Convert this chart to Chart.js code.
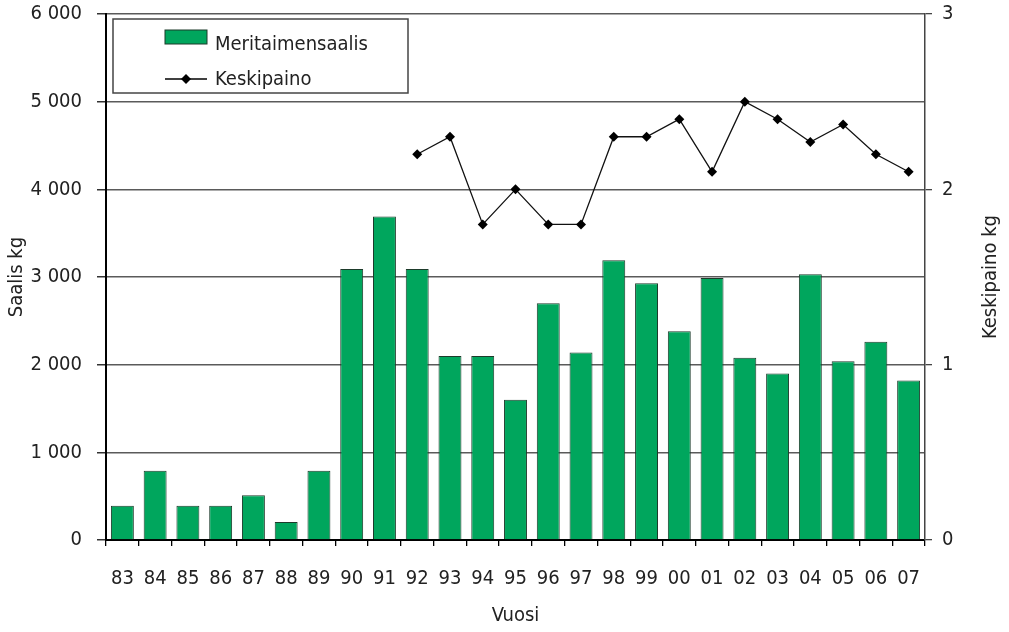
<!DOCTYPE html>
<html>
<head>
<meta charset="utf-8">
<script src="https://cdn.jsdelivr.net/npm/chart.js@4/dist/chart.umd.min.js"></script>
<style>
  body { margin: 0; background: #fff; }
  #wrap { width: 1009px; height: 632px; position: relative; }
</style>
</head>
<body>
<div id="wrap"><canvas id="myChart"></canvas></div>
<script>
const years = ['83','84','85','86','87','88','89','90','91','92','93','94','95','96','97','98','99','00','01','02','03','04','05','06','07'];

// saalis kg
const catchKg = [390, 790, 390, 390, 510, 205, 790, 3090, 3690, 3090, 2100, 2100, 1600, 2700, 2140,
  3190, 2930, 2380, 2990, 2080, 1900, 3030, 2040, 2260, 1820];

// keskipaino kg (no data before 92)
const avgWeight = [null, null, null, null, null, null, null, null, null, 2.2, 2.3, 1.8, 2.0, 1.8, 1.8,
  2.3, 2.3, 2.4, 2.1, 2.5, 2.4, 2.27, 2.37, 2.2, 2.1];

const leftTicks = [0, 1000, 2000, 3000, 4000, 5000, 6000];
const rightTicks = [0, 1, 2, 3];

const barName = 'Meritaimensaalis';
const lineName = 'Keskipaino';
const leftTitle = 'Saalis kg';
const rightTitle = 'Keskipaino kg';
const xTitle = 'Vuosi';

const font = '"Liberation Sans Narrow", "DejaVu Sans Condensed", sans-serif';
const green = '#00a65d';
const gridColor = '#5a5a5a';

const fmt = (v) => String(v).replace(/\B(?=(\d{3})+(?!\d))/g, ' ');

// legend box + right title drawn by hand
const extras = {
  id: 'extras',
  afterDraw(chart) {
    const ctx = chart.ctx;
    ctx.save();
    // legend box
    ctx.fillStyle = '#fff';
    ctx.fillRect(113, 19, 295, 74);
    ctx.strokeStyle = '#444';
    ctx.lineWidth = 1.5;
    ctx.strokeRect(113, 19, 295, 74);

    ctx.fillStyle = green;
    ctx.fillRect(165, 30, 42, 14);
    ctx.strokeStyle = '#1d3b2b';
    ctx.lineWidth = 1;
    ctx.strokeRect(165, 30, 42, 14);

    ctx.strokeStyle = '#000';
    ctx.lineWidth = 1.5;
    ctx.beginPath();
    ctx.moveTo(165, 79);
    ctx.lineTo(207, 79);
    ctx.stroke();
    ctx.fillStyle = '#000';
    ctx.beginPath();
    ctx.moveTo(186, 74); ctx.lineTo(191, 79); ctx.lineTo(186, 84); ctx.lineTo(181, 79);
    ctx.closePath();
    ctx.fill();

    ctx.fillStyle = '#222';
    ctx.font = '20px ' + font;
    ctx.textBaseline = 'alphabetic';
    ctx.textAlign = 'left';
    ctx.fillText(chart.data.datasets[1].label, 215, 50);
    ctx.fillText(chart.data.datasets[0].label, 215, 85);

    // right axis title, reading bottom to top
    const y1 = chart.scales.y1;
    ctx.translate(991, (y1.top + y1.bottom) / 2);
    ctx.rotate(-Math.PI / 2);
    ctx.textAlign = 'center';
    ctx.textBaseline = 'middle';
    ctx.fillText(rightTitle, 0, 0);
    ctx.restore();
  }
};

const config = {
  data: {
    labels: years,
    datasets: [
      {
        type: 'line',
        label: lineName,
        data: avgWeight,
        yAxisID: 'y1',
        borderColor: '#111',
        borderWidth: 1.3,
        backgroundColor: '#000',
        pointStyle: 'rectRot',
        pointRadius: 5,
        pointBorderWidth: 0,
        tension: 0,
        spanGaps: false,
        order: 0
      },
      {
        type: 'bar',
        label: barName,
        data: catchKg,
        yAxisID: 'y',
        backgroundColor: green,
        borderColor: '#1d3b2b',
        borderWidth: 1,
        categoryPercentage: 1,
        barPercentage: 0.7,
        order: 1
      }
    ]
  },
  options: {
    responsive: true,
    maintainAspectRatio: false,
    animation: false,
    layout: { padding: { top: 14, left: 0, right: 0, bottom: 0 } },
    plugins: {
      legend: { display: false },
      tooltip: { enabled: false }
    },
    scales: {
      x: {
        offset: true,
        grid: { offset: true, drawOnChartArea: false, drawTicks: true, tickLength: 6, color: '#000', lineWidth: 1.3 },
        border: { color: '#000', width: 2 },
        ticks: { color: '#222', font: { family: font, size: 20 }, padding: 21, maxRotation: 0, autoSkip: false },
        title: { display: true, text: xTitle, color: '#222', font: { family: font, size: 20 }, padding: 4 },
        afterFit(scale) { scale.height = 92; }
      },
      y: {
        position: 'left',
        min: 0,
        max: 6000,
        afterBuildTicks(scale) { scale.ticks = leftTicks.map(v => ({ value: v })); },
        grid: { color: gridColor, lineWidth: 1.5, tickColor: '#333', tickLength: 9 },
        border: { color: '#000', width: 2 },
        ticks: { color: '#222', font: { family: font, size: 20 }, padding: 15, callback: (v) => fmt(v) },
        title: { display: true, text: leftTitle, color: '#222', font: { family: font, size: 20 }, padding: 5 },
        afterFit(scale) { scale.width = 106; scale.paddingTop = 0; scale.paddingBottom = 0; }
      },
      y1: {
        position: 'right',
        min: 0,
        max: 3,
        afterBuildTicks(scale) { scale.ticks = rightTicks.map(v => ({ value: v })); },
        grid: { drawOnChartArea: false, tickColor: '#444', tickLength: 7, lineWidth: 1.3 },
        border: { color: '#444', width: 1.5 },
        ticks: { color: '#222', font: { family: font, size: 20 }, padding: 10 },
        afterFit(scale) { scale.width = 84; scale.paddingTop = 0; scale.paddingBottom = 0; }
      }
    }
  },
  plugins: [extras]
};

function start() {
  const ctx = document.getElementById('myChart').getContext('2d');
  new Chart(ctx, config);
}

window.onload = start;
</script>
</body>
</html>
